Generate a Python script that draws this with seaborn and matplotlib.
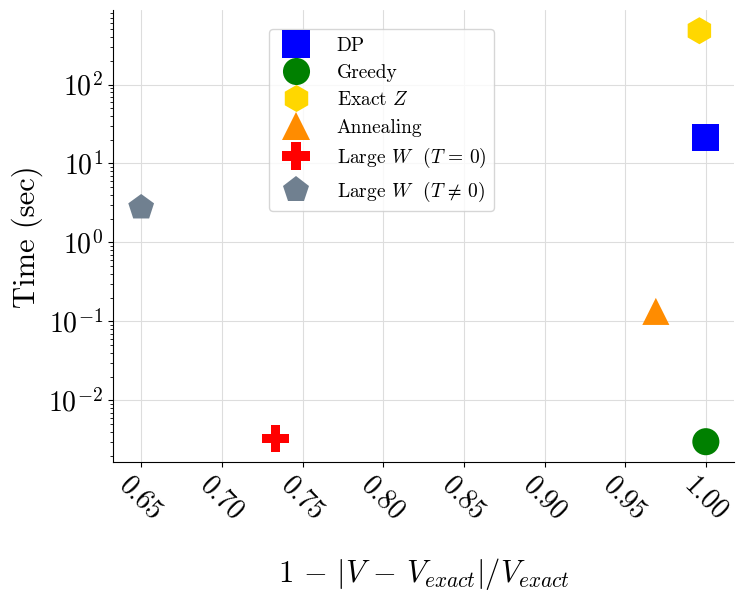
import pandas as pd
import seaborn as sns
import matplotlib
matplotlib.use('Agg')
import matplotlib.pyplot as plt

methods = ['DP', 'Greedy', 'Exact $Z$', 'Annealing',
           'Large $W$  $(T\\,=\\,0)$', 'Large $W$  $(T\\,\\neq\\,0)$']
accuracy = [1.0, 1.0, 0.996, 0.969, 0.733, 0.65]
time_sec = [21.3, 0.003, 480, 0.134, 0.0033, 2.77]

marker_map = dict(zip(methods, ['s', 'o', 'h', '^', 'P', 'p']))
color_map = dict(zip(methods, ['blue', 'green', 'gold', 'darkorange', 'red', 'slategray']))

df = pd.DataFrame({'method': methods, 'acc': accuracy, 'time': time_sec})

sns.set_style('ticks')
plt.rcParams['font.family'] = 'serif'
plt.rcParams['font.serif'] = ['cmr10']
plt.rcParams['mathtext.fontset'] = 'cm'
plt.rcParams['axes.formatter.use_mathtext'] = True
plt.rcParams['axes.unicode_minus'] = False
plt.rcParams['text.color'] = 'black'
plt.rcParams['axes.labelcolor'] = 'black'
plt.rcParams['xtick.color'] = 'black'
plt.rcParams['ytick.color'] = 'black'
plt.rcParams['axes.edgecolor'] = 'black'

fig, ax = plt.subplots(figsize=(7.43, 5.98), dpi=100)
fig.subplots_adjust(left=0.152, right=0.988, top=0.983, bottom=0.227)

sns.scatterplot(data=df, x='acc', y='time', hue='method', style='method',
                markers=marker_map, palette=color_map, s=380, edgecolor='none',
                ax=ax, zorder=3)
ax.set_yscale('log')
ax.set_xticks([0.65, 0.70, 0.75, 0.80, 0.85, 0.90, 0.95, 1.00])
ax.set_xticklabels(['0.65', '0.70', '0.75', '0.80', '0.85', '0.90', '0.95', '1.00'],
                   rotation=-45, ha='center', fontsize=20)
ax.tick_params(axis='y', labelsize=20)
ax.grid(True, color='#dddddd', linewidth=0.8)
ax.set_axisbelow(True)
ax.set_xlabel('$1\\,-\\,|V\\,-\\,V_{exact}|/V_{exact}$', fontsize=22, labelpad=22)
ax.set_ylabel('Time (sec)', fontsize=22)
sns.despine(ax=ax)

leg = ax.legend(loc='upper left', bbox_to_anchor=(0.235, 0.98), fontsize=14,
                labelspacing=0.48, handletextpad=1.1, borderpad=0.4,
                markerscale=1.0)
leg.set_title(None)

fig.savefig('out.png', dpi=100)
